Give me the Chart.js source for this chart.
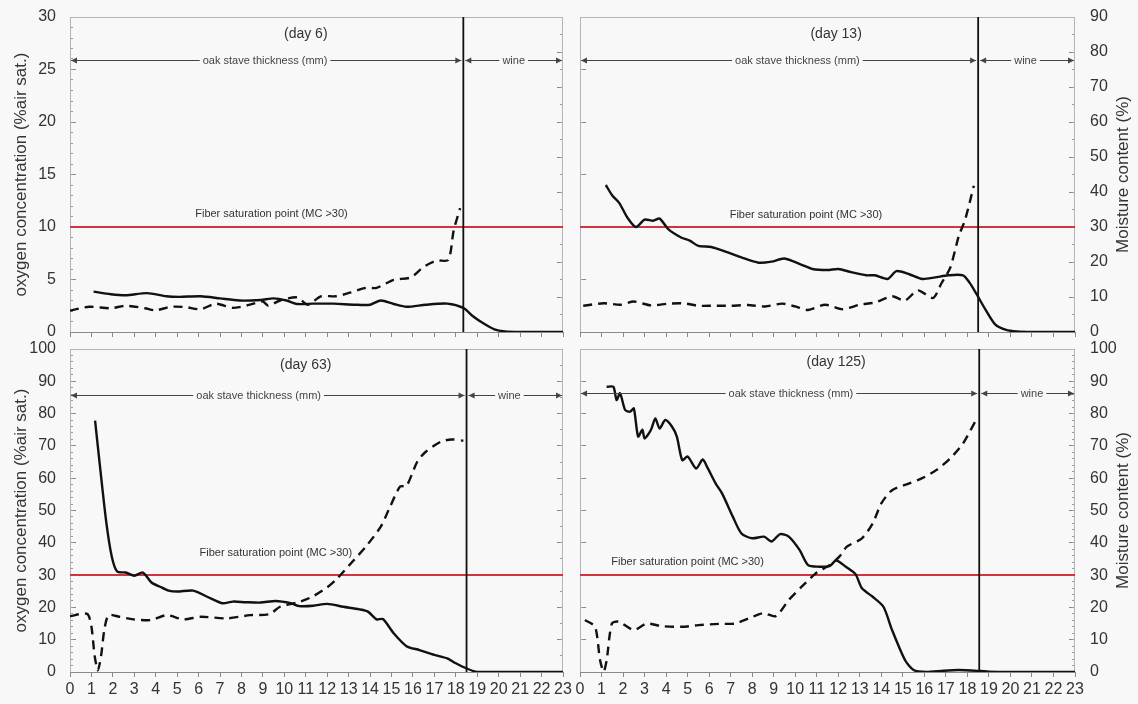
<!DOCTYPE html>
<html><head><meta charset="utf-8">
<script src="https://cdn.jsdelivr.net/npm/chart.js@4.4.0/dist/chart.umd.min.js"></script>
<style>
html,body{margin:0;padding:0;background:#f8f8f8;}
#wrap{position:relative;width:1138px;height:704px;overflow:hidden;}
.p{position:absolute;}
</style></head><body><div id="wrap">
<div class="p" style="left:0;top:0;width:580px;height:340px"><canvas id="c6"></canvas></div>
<div class="p" style="left:563px;top:0;width:575px;height:340px"><canvas id="c13"></canvas></div>
<div class="p" style="left:0;top:332px;width:580px;height:372px"><canvas id="c63"></canvas></div>
<div class="p" style="left:563px;top:332px;width:575px;height:372px"><canvas id="c125"></canvas></div>
</div>
<script>
// ---------- DATA (depth in mm, oxygen in %air sat., moisture content in %) ----------
const xTicks = [0,1,2,3,4,5,6,7,8,9,10,11,12,13,14,15,16,17,18,19,20,21,22,23];
const fiberSaturationMC = 30;

const day6DepthO2 = [1.1,1.9,2.6,3.6,4.5,5.1,6.1,7.0,7.9,8.9,9.5,10.1,10.6,11.35,12.3,13.3,14.0,14.5,15.1,15.7,16.6,17.6,18.35,18.8,19.3,19.8,20.3,21,22,23];
const day6O2 = [3.84,3.6,3.5,3.7,3.4,3.35,3.4,3.2,3.0,3.05,3.2,3.0,2.67,2.7,2.7,2.6,2.6,3.0,2.67,2.4,2.6,2.7,2.3,1.5,0.8,0.25,0.05,0,0,0];
const day6DepthMC = [0,0.9,1.9,2.6,3.5,4.0,4.7,5.4,6.1,6.8,7.6,8.4,9.0,9.25,9.8,10.6,11.1,11.7,12.4,13.1,13.8,14.3,15.1,15.9,16.5,17.1,17.65,17.9,18.2];
const day6MC = [6.1,7.2,6.8,7.5,6.8,6.2,7.2,7.1,6.5,8.1,6.9,7.8,8.7,7.5,9.0,9.9,7.8,10.2,10.2,11.3,12.6,12.6,14.9,15.6,18.6,20.4,20.6,29,35.4];

const day13DepthO2 = [1.2,1.5,1.82,2.2,2.6,3.0,3.4,3.7,4.1,4.7,5.1,5.5,6.1,6.7,7.5,8.3,8.9,9.5,10.3,10.8,11.5,12.0,12.6,13.3,13.7,14.3,14.7,15.3,15.9,16.5,17.1,17.8,18.1,18.4,18.85,19.3,19.8,20.3,21,22,23];
const day13O2 = [14.0,13.0,12.3,10.9,10.0,10.7,10.6,10.8,9.8,9.0,8.7,8.2,8.1,7.7,7.1,6.6,6.7,7.0,6.4,6.0,5.9,6.0,5.7,5.4,5.4,5.05,5.8,5.5,5.05,5.2,5.4,5.4,4.7,3.7,2.1,0.7,0.2,0.05,0,0,0];
const day13DepthMC = [0.15,1.1,1.9,2.5,3.3,4.1,4.8,5.5,6.2,7.0,7.8,8.6,9.4,10.0,10.6,11.4,12.2,13.0,13.7,14.5,15.1,15.7,16.4,16.8,17.2,17.6,17.9,18.3];
const day13MC = [7.5,8.2,7.8,8.7,7.6,8.1,8.2,7.5,7.5,7.5,7.7,7.3,8.1,7.3,6.3,7.8,6.5,7.8,8.4,10.2,9.0,11.9,9.7,14.0,18.3,27.4,32.2,41.8];

const day63DepthO2 = [1.17,1.4,1.7,1.95,2.2,2.6,3.0,3.4,3.8,4.2,4.6,5.0,5.75,6.4,7.1,7.6,8.2,8.9,9.6,10.3,10.7,11.35,12.0,12.75,13.5,13.9,14.3,14.6,15.1,15.7,16.3,17.0,17.6,18.0,18.5,19.0,20,21,22,23];
const day63O2 = [77.8,63.6,46,35.7,31.1,30.8,29.8,30.8,27.7,26.4,25.2,24.9,25.2,23.3,21.3,21.8,21.6,21.5,22.0,21.3,20.4,20.5,21.1,20.2,19.4,18.7,16.3,16.4,12.0,8.0,6.8,5.3,4.2,2.7,1.1,0,0,0,0,0];
const day63DepthMC = [0,0.8,1.0,1.15,1.3,1.45,1.6,1.8,2.3,2.95,3.8,4.5,5.3,6.1,7.3,8.4,9.3,9.8,10.6,11.3,12.0,12.4,13.1,13.8,14.5,14.9,15.4,15.7,16.2,16.6,17.3,17.8,18.35];
const day63MC = [17.3,18,14,5,0.5,5,13,17.6,17.1,16.3,16.1,17.6,16.3,17.1,16.6,17.6,17.9,20.2,21.5,23.3,26.2,28.5,33.6,38.8,45,50.7,57.4,57.6,65.1,68.2,71.3,72,71.6];

const day125DepthO2 = [1.24,1.55,1.7,1.86,2.1,2.33,2.5,2.7,2.9,3.0,3.3,3.5,3.7,3.96,4.27,4.5,4.75,5.0,5.4,5.7,5.9,6.3,6.6,7.1,7.5,8.0,8.55,8.9,9.3,9.7,10.2,10.6,11.1,11.6,11.9,12.35,12.8,13.1,13.6,14.1,14.5,15.1,15.5,16.1,16.9,17.6,18.6,19.0,20,21,22,23];
const day125O2 = [88.3,88.3,84.2,86.3,81.1,80.6,81.6,72.9,75,72.3,75,78.5,75.4,78,76,72.9,65.6,66.7,63,65.8,63.6,58.4,55.3,48.1,42.9,41.4,41.9,40.4,42.7,41.9,37.8,33.1,32.6,32.8,34.5,32.6,30.3,25.9,23.3,20.2,13,3.7,0.6,0,0.4,0.6,0.3,0.1,0,0,0,0];
const day125DepthMC = [0.23,0.7,0.93,1.1,1.24,1.48,1.8,2.5,3.1,3.8,4.75,5.5,6.45,7.2,7.85,8.5,9.1,9.7,10.3,10.95,11.6,12.05,12.4,13.1,13.6,14.0,14.5,15.3,15.9,16.55,17.2,17.8,18.4];
const day125MC = [16.1,14,3.7,0.1,3.7,15,15.6,13,15,14.2,14,14.5,14.9,15,16.6,18.2,17.3,22.3,26.4,30.5,33.1,35.7,38.8,41.4,46,52.2,56.3,58.4,60,62.5,66.1,70.8,78];

// ---------- PANEL SETUP ----------
const FONT = "'Liberation Sans', Arial, sans-serif";
Chart.defaults.font.family = FONT;
const TEXT = '#333';

const panels = [
  {id:'c6', day:'(day 6)', o2x:day6DepthO2, o2:day6O2, mcx:day6DepthMC, mc:day6MC,
   yMax:30, yStep:5, yMinor:1, y2Max:90, y2Step:10, y2Minor:5,
   leftLabels:true, rightLabels:false, xLabels:false, boundary:18.35,
   dayPos:[11.0,28.4], arrowY:25.9, oakX:9.1, wineX:20.7, fiberPos:[9.4,11.2],
   leftW:70, rightW:17, xH:8},
  {id:'c13', day:'(day 13)', o2x:day13DepthO2, o2:day13O2, mcx:day13DepthMC, mc:day13MC,
   yMax:30, yStep:5, yMinor:5, y2Max:90, y2Step:10, y2Minor:5,
   leftLabels:false, rightLabels:true, xLabels:false, boundary:18.5,
   dayPos:[11.9,28.4], arrowY:25.9, oakX:10.1, wineX:20.7, fiberPos:[10.5,11.1],
   leftW:17, rightW:63, xH:8},
  {id:'c63', day:'(day 63)', o2x:day63DepthO2, o2:day63O2, mcx:day63DepthMC, mc:day63MC,
   yMax:100, yStep:10, yMinor:2, y2Max:100, y2Step:10, y2Minor:5,
   leftLabels:true, rightLabels:false, xLabels:true, boundary:18.5,
   dayPos:[11.0,95], arrowY:85.8, oakX:8.8, wineX:20.5, fiberPos:[9.6,37],
   leftW:70, rightW:17, xH:32},
  {id:'c125', day:'(day 125)', o2x:day125DepthO2, o2:day125O2, mcx:day125DepthMC, mc:day125MC,
   yMax:100, yStep:10, yMinor:10, y2Max:100, y2Step:10, y2Minor:2,
   leftLabels:false, rightLabels:true, xLabels:true, boundary:18.55,
   dayPos:[11.9,96], arrowY:86.5, oakX:9.8, wineX:21.0, fiberPos:[5.0,34],
   leftW:17, rightW:63, xH:32}
];

function zeroPad(s){ s.paddingLeft = 0; s.paddingRight = 0; s.paddingTop = 0; s.paddingBottom = 0; }

function arrowHead(ctx, x, y, dir){
  ctx.beginPath();
  ctx.moveTo(x, y);
  ctx.lineTo(x - dir*6, y - 3);
  ctx.lineTo(x - dir*6, y + 3);
  ctx.closePath();
  ctx.fill();
}
function labeledArrow(ctx, x1, x2, y, text, tx){
  const w = ctx.measureText(text).width;
  const a = tx - w/2 - 3, b = tx + w/2 + 3;
  ctx.beginPath();
  ctx.moveTo(x1, y); ctx.lineTo(a, y);
  ctx.moveTo(b, y); ctx.lineTo(x2, y);
  ctx.stroke();
  arrowHead(ctx, x1, y, -1);
  arrowHead(ctx, x2, y, 1);
  ctx.fillText(text, tx, y + 0.5);
}

const framePlugin = {
  id: 'frame',
  beforeDatasetsDraw(chart){
    const {ctx, chartArea:a} = chart;
    ctx.save();
    ctx.strokeStyle = '#b4b4b4';
    ctx.lineWidth = 1;
    ctx.strokeRect(Math.round(a.left)+0.5, Math.round(a.top)+0.5, Math.round(a.right-a.left)-1, Math.round(a.bottom-a.top));
    ctx.strokeStyle = '#8a8a8a';
    ctx.beginPath();
    ctx.moveTo(a.left, Math.round(a.bottom)+0.5);
    ctx.lineTo(a.right, Math.round(a.bottom)+0.5);
    ctx.stroke();
    ctx.restore();
  }
};

const annotPlugin = {
  id: 'annot',
  afterDatasetsDraw(chart){
    const p = chart.options.plugins.annot.panel;
    const {ctx, chartArea:a} = chart;
    const sx = chart.scales.x, sy = chart.scales.y;
    ctx.save();
    ctx.fillStyle = TEXT;
    ctx.textAlign = 'center';
    ctx.textBaseline = 'middle';
    ctx.font = '14px ' + FONT;
    ctx.fillText(p.day, sx.getPixelForValue(p.dayPos[0]), sy.getPixelForValue(p.dayPos[1]));
    ctx.font = '11px ' + FONT;
    ctx.fillText('Fiber saturation point (MC >30)', sx.getPixelForValue(p.fiberPos[0]), sy.getPixelForValue(p.fiberPos[1]));
    ctx.strokeStyle = '#444';
    ctx.fillStyle = '#444';
    ctx.lineWidth = 1;
    const ay = Math.round(sy.getPixelForValue(p.arrowY)) + 0.5;
    const bx = sx.getPixelForValue(p.boundary);
    labeledArrow(ctx, sx.getPixelForValue(0) + 1, bx - 2, ay, 'oak stave thickness (mm)', sx.getPixelForValue(p.oakX));
    labeledArrow(ctx, bx + 2, sx.getPixelForValue(23) - 1, ay, 'wine', sx.getPixelForValue(p.wineX));
    if (p.rightLabels) {
      ctx.fillStyle = TEXT;
      ctx.font = '17px ' + FONT;
      ctx.translate(chart.width - 15, (a.top + a.bottom) / 2);
      ctx.rotate(-Math.PI / 2);
      ctx.fillText('Moisture content (%)', 0, 0);
    }
    ctx.restore();
  }
};

panels.forEach(p => {
  const pts = (xs, ys) => xs.map((x, i) => ({x: x, y: ys[i]}));
  new Chart(document.getElementById(p.id), {
    type: 'line',
    data: {
      datasets: [
        {label:'oxygen', data: pts(p.o2x, p.o2), yAxisID:'y', borderColor:'#111', borderWidth:2.4,
         pointRadius:0, tension:0.25, order:1},
        {label:'moisture', data: pts(p.mcx, p.mc), yAxisID:'y2', borderColor:'#111', borderWidth:2.4,
         borderDash:[9,6], pointRadius:0, tension:0.25, order:1},
        {label:'fsp', data: [{x:0, y:fiberSaturationMC}, {x:23, y:fiberSaturationMC}], yAxisID:'y2',
         borderColor:'#cf3540', borderWidth:2, pointRadius:0, order:3},
        {label:'boundary', data: [{x:p.boundary, y:0}, {x:p.boundary, y:p.yMax}], yAxisID:'y',
         borderColor:'#111', borderWidth:1.8, pointRadius:0, order:2}
      ]
    },
    options: {
      responsive: true,
      maintainAspectRatio: false,
      animation: false,
      events: [],
      layout: {padding: {top:17, left:0, right:0, bottom:0}, autoPadding:false},
      plugins: {legend:{display:false}, tooltip:{enabled:false}, annot:{panel:p}},
      scales: {
        x: {type:'linear', min:0, max:23, position:'bottom', weight:1,
            afterBuildTicks(s){ s.ticks = xTicks.map(v => ({value:v})); },
            ticks:{autoSkip:false, maxRotation:0, minRotation:0, display:p.xLabels,
                   font:{size:16}, color:TEXT, padding:3},
            grid:{drawOnChartArea:false, drawTicks:true, tickLength:5, color:'#888'},
            border:{display:false},
            afterFit(s){ s.height = p.xH; zeroPad(s); }},
        y: {type:'linear', position:'left', min:0, max:p.yMax, weight:1,
            ticks:{stepSize:p.yStep, display:p.leftLabels, font:{size:16}, color:TEXT, padding:20},
            grid:{drawOnChartArea:false, drawTicks:true, tickLength:-6, color:'#888'},
            border:{display:false},
            title:{display:p.leftLabels, text:'oxygen concentration (%air sat.)', font:{size:17},
                   color:TEXT, padding:{top:11, bottom:0}},
            afterFit(s){ s.width = p.leftW; zeroPad(s); }},
        yMinor: {type:'linear', position:'left', min:0, max:p.yMax, weight:0,
            ticks:{stepSize:p.yMinor, display:false},
            grid:{drawOnChartArea:false, drawTicks:true, tickLength:-3, color:'#999'},
            border:{display:false},
            afterFit(s){ s.width = 0; zeroPad(s); }},
        y2: {type:'linear', position:'right', min:0, max:p.y2Max, weight:1,
            ticks:{stepSize:p.y2Step, display:p.rightLabels, font:{size:16}, color:TEXT, padding:21},
            grid:{drawOnChartArea:false, drawTicks:true, tickLength:-6, color:'#888'},
            border:{display:false},
            afterFit(s){ s.width = p.rightW; zeroPad(s); }},
        y2Minor: {type:'linear', position:'right', min:0, max:p.y2Max, weight:0,
            ticks:{stepSize:p.y2Minor, display:false},
            grid:{drawOnChartArea:false, drawTicks:true, tickLength:-3, color:'#999'},
            border:{display:false},
            afterFit(s){ s.width = 0; zeroPad(s); }}
      }
    },
    plugins: [framePlugin, annotPlugin]
  });
});
</script>
</body></html>
